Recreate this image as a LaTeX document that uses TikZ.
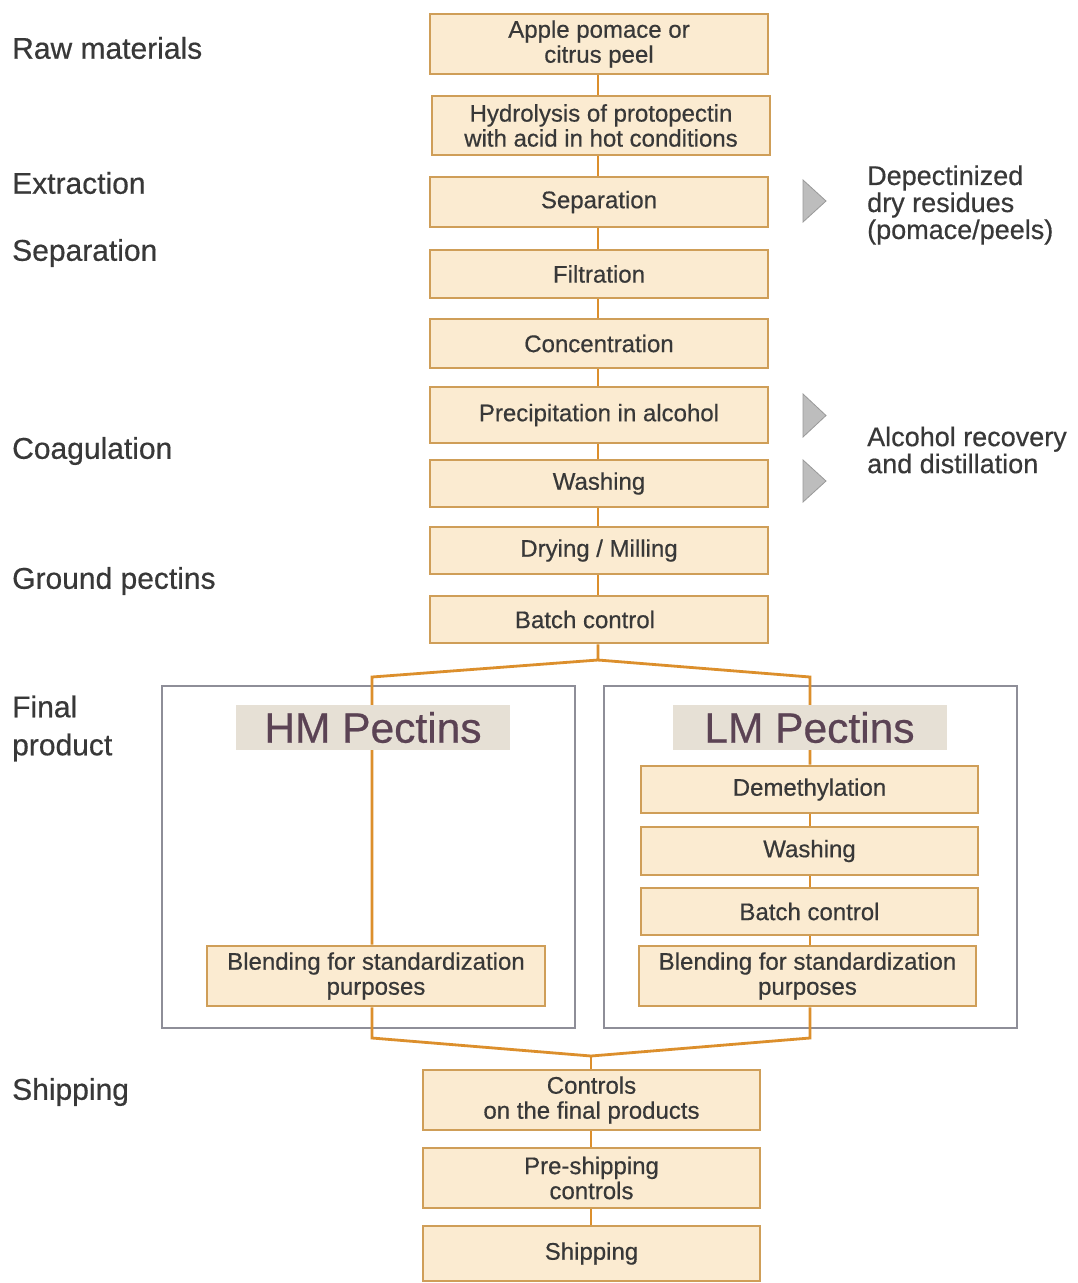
\documentclass[tikz,border=0pt]{standalone}
\usepackage{fontspec}
\setmainfont{Liberation Sans}[FakeBold=0.5]
\pgfdeclarelayer{background}
\pgfsetlayers{background,main}
\definecolor{boxfill}{HTML}{FBEBD1}
\definecolor{boxedge}{HTML}{CF9E58}
\definecolor{conn}{HTML}{DC8F2C}
\definecolor{grayedge}{HTML}{8E8E98}
\definecolor{labbg}{HTML}{E6E0D5}
\definecolor{labtxt}{HTML}{5B4354}
\definecolor{txt}{HTML}{383838}
\definecolor{trifill}{HTML}{BDBDBD}
\begin{document}
\begin{tikzpicture}[x=1pt,y=-1pt,
  pbox/.style={draw=boxedge, line width=2.8pt, fill=boxfill, text=txt, align=center,
     inner sep=0pt, font=\fontsize{24}{25}\selectfont},
  sidelab/.style={anchor=west, text=txt, align=left, inner sep=0pt, font=\fontsize{30}{38}\selectfont},
  note/.style={anchor=west, text=txt, align=left, inner sep=0pt, font=\fontsize{27}{27}\selectfont},
  pectlab/.style={fill=labbg, text=labtxt, inner sep=0pt, minimum width=274pt, minimum height=45pt,
     font=\fontsize{42.5}{44}\selectfont},
  conline/.style={draw=conn, line width=2.8pt},
  grouprect/.style={draw=grayedge, line width=1.8pt},
  tri/.style={fill=trifill, draw=gray!80, line width=0.8pt}
]
\useasboundingbox (0,0) rectangle (1078,1283);

% main column
\node[pbox, minimum width=338pt, minimum height=60pt] (b1) at (599,44) {Apple pomace or\\citrus peel};
\node[pbox, minimum width=338pt, minimum height=59pt] (b2) at (601,125.5) {Hydrolysis of protopectin\\with acid in hot conditions};
\node[pbox, minimum width=338pt, minimum height=50pt] (b3) at (599,202) {Separation};
\node[pbox, minimum width=338pt, minimum height=48pt] (b4) at (599,274) {Filtration};
\node[pbox, minimum width=338pt, minimum height=49pt] (b5) at (599,343.5) {Concentration};
\node[pbox, minimum width=338pt, minimum height=56pt] (b6) at (599,415) {Precipitation in alcohol};
\node[pbox, minimum width=338pt, minimum height=47pt] (b7) at (599,483.5) {Washing};
\node[pbox, minimum width=338pt, minimum height=47pt] (b8) at (599,550.5) {Drying / Milling};
\node[pbox, minimum width=338pt, minimum height=47pt] (b9) at (599,619.5) {\hspace*{-28pt}Batch control};

% pectin labels
\node[pectlab] (hmlab) at (373,727.5) {HM Pectins};
\node[pectlab] (lmlab) at (809.5,727.5) {LM Pectins};

% HM branch
\node[pbox, minimum width=338pt, minimum height=60pt] (hmbl) at (376,976) {Blending for standardization\\purposes};

% LM branch
\node[pbox, minimum width=337pt, minimum height=47pt] (dem) at (809.5,789.5) {Demethylation};
\node[pbox, minimum width=337pt, minimum height=48pt] (lmw) at (809.5,851) {Washing};
\node[pbox, minimum width=337pt, minimum height=47pt] (lmbc) at (809.5,911.5) {Batch control};
\node[pbox, minimum width=337pt, minimum height=60pt] (lmbl) at (807.5,976) {Blending for standardization\\purposes};

% shipping
\node[pbox, minimum width=337pt, minimum height=60pt] (c1) at (591.5,1100) {Controls\\on the final products};
\node[pbox, minimum width=337pt, minimum height=60pt] (c2) at (591.5,1178) {Pre-shipping\\controls};
\node[pbox, minimum width=337pt, minimum height=55pt] (c3) at (591.5,1253.5) {Shipping};

% branch coordinates
\coordinate (split) at (598,660);
\coordinate (hl) at (372,677);
\coordinate (lr) at (810,677);
\coordinate (hd) at (372,1038);
\coordinate (ld) at (810,1038);
\coordinate (merge) at (591,1056);

\begin{pgfonlayer}{background}
  \fill[white] (0,0) rectangle (1078,1283);
  % group frames
  \node[grouprect, minimum width=413pt, minimum height=342pt, inner sep=0pt] (hmgrp) at (368.5,857) {};
  \node[grouprect, minimum width=413pt, minimum height=342pt, inner sep=0pt] (lmgrp) at (810.5,857) {};
  \draw[conline] (b1.south -| 598,0) -- (b2.north -| 598,0);
  \draw[conline] (b2.south -| 598,0) -- (b3.north -| 598,0);
  \draw[conline] (b3.south -| 598,0) -- (b4.north -| 598,0);
  \draw[conline] (b4.south -| 598,0) -- (b5.north -| 598,0);
  \draw[conline] (b5.south -| 598,0) -- (b6.north -| 598,0);
  \draw[conline] (b6.south -| 598,0) -- (b7.north -| 598,0);
  \draw[conline] (b7.south -| 598,0) -- (b8.north -| 598,0);
  \draw[conline] (b8.south -| 598,0) -- (b9.north -| 598,0);
  \draw[conline] (b9.south -| split) -- (split) -- (hl) -- (hmbl.north -| hl);
  \draw[conline] (split) -- (lr) -- (dem.north -| lr);
  \draw[conline] (dem.south -| lr) -- (lmw.north -| lr);
  \draw[conline] (lmw.south -| lr) -- (lmbc.north -| lr);
  \draw[conline] (lmbc.south -| lr) -- (lmbl.north -| lr);
  \draw[conline] (hmbl.south -| hd) -- (hd) -- (merge);
  \draw[conline] (lmbl.south -| ld) -- (ld) -- (merge);
  \draw[conline] (merge) -- (c1.north -| merge);
  \draw[conline] (c1.south -| merge) -- (c2.north -| merge);
  \draw[conline] (c2.south -| merge) -- (c3.north -| merge);
\end{pgfonlayer}

% side labels
\node[sidelab] (l1) at (12,48) {Raw materials};
\node[sidelab] (l2) at (12,183) {Extraction};
\node[sidelab] (l3) at (12,253) {Separation};
\node[sidelab] (l4) at (12,451) {Coagulation};
\node[sidelab] (l5) at (12,581) {Ground pectins};
\node[sidelab] (l6) at (12,728.5) {Final\\product};
\node[sidelab] (l7) at (12,1092) {Shipping};

% triangles
\draw[tri] (803,180) -- (826,201) -- (803,222) -- cycle;
\draw[tri] (803,394) -- (826,415.5) -- (803,437) -- cycle;
\draw[tri] (803,460) -- (826,481) -- (803,502) -- cycle;

% notes
\node[note] (n1) at (867,205) {Depectinized\\dry residues\\(pomace/peels)};
\node[note] (n2) at (867,450) {Alcohol recovery\\and distillation};
\end{tikzpicture}
\end{document}
